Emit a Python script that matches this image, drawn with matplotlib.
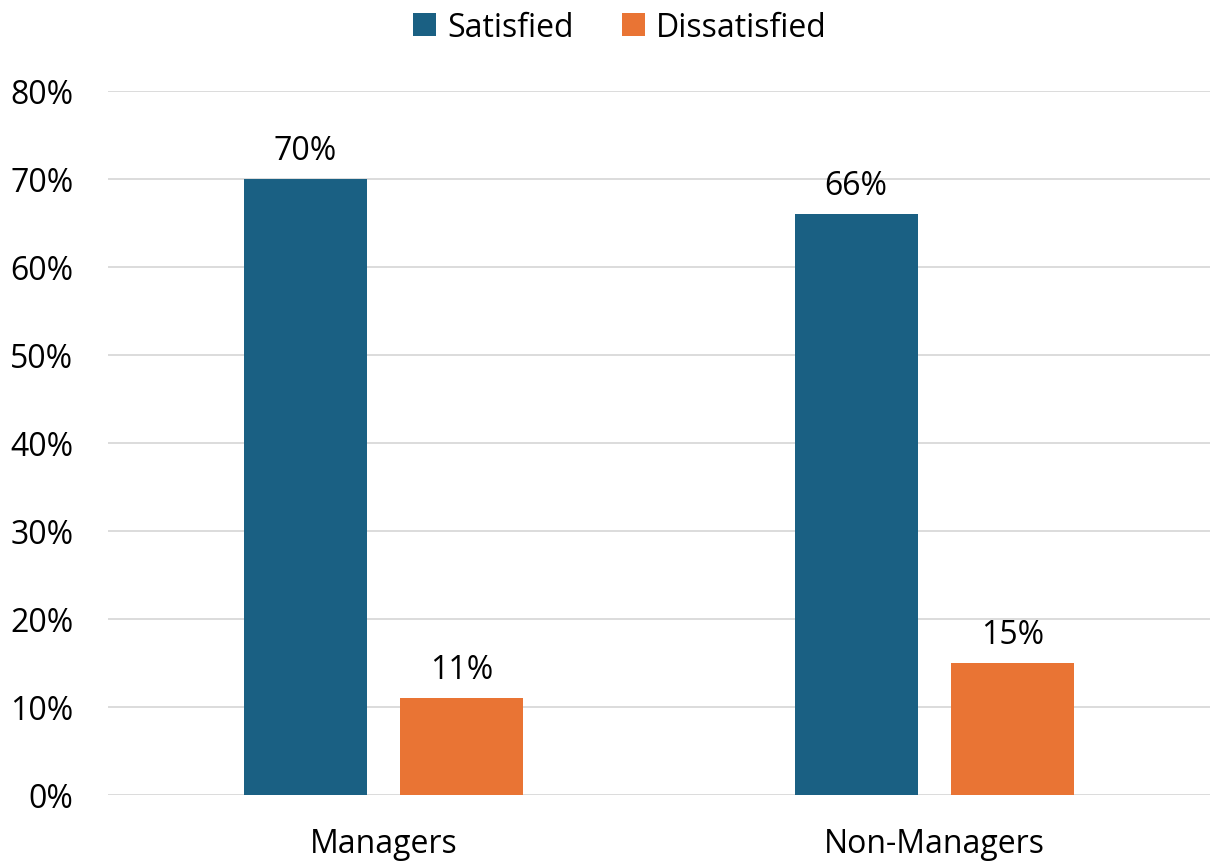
import matplotlib
matplotlib.use("Agg")
import matplotlib.pyplot as plt
from matplotlib.patches import Patch
import numpy as np

categories = ["Managers", "Non-Managers"]
series_names = ["Satisfied", "Dissatisfied"]
satisfied = [0.70, 0.66]
dissatisfied = [0.11, 0.15]
y_ticks = [0, 0.1, 0.2, 0.3, 0.4, 0.5, 0.6, 0.7, 0.8]

colors = ["#1A6083", "#E97434"]
plt.rcParams['font.family'] = ['Open Sans', 'DejaVu Sans']

W, H = 1212, 862
fig = plt.figure(figsize=(W / 100, H / 100), dpi=100)
ax = fig.add_axes([108 / W, 1 - 796 / H, (1210 - 108) / W, (796 - 92) / H])

x = np.arange(len(categories))
bw = 0.2232
gap = 0.0617
off = (bw + gap) / 2
values = [satisfied, dissatisfied]
fs = 23
for i, (vals, c) in enumerate(zip(values, colors)):
    pos = x + (-off if i == 0 else off)
    bars = ax.bar(pos, vals, width=bw, color=c, zorder=3)
    for b, v in zip(bars, vals):
        ax.annotate(f"{v:.0%}", (b.get_x() + b.get_width() / 2, v),
                    xytext=(0, 9), textcoords="offset points",
                    ha="center", va="bottom", fontsize=fs, color="#000000")

ax.set_xlim(-0.5, 1.5)
ax.set_ylim(0, 0.8)
ax.set_yticks(y_ticks)
ax.set_yticklabels([f"{t:.0%}" for t in y_ticks])
ax.set_xticks(x)
ax.set_xticklabels(categories)
ax.tick_params(axis="y", length=0, pad=25, labelsize=fs)
ax.tick_params(axis="x", length=0, pad=23, labelsize=fs)
ax.grid(axis="y", color="#D9D9D9", linewidth=1.3, zorder=0)
for s in ax.spines.values():
    s.set_visible(False)

handles = [Patch(facecolor=c, edgecolor="none") for c in colors]
fig.legend(handles, series_names, loc="upper center", bbox_to_anchor=(620 / W, 1.02),
           ncol=2, frameon=False, fontsize=fs, handlelength=0.72, handleheight=0.72,
           handletextpad=0.35, columnspacing=1.5)

fig.savefig("out.png", dpi=100)
